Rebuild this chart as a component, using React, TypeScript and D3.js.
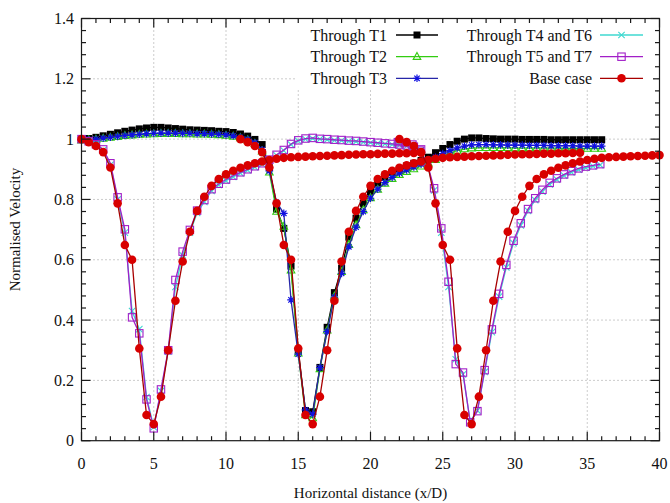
import React, { useEffect, useRef } from 'react'
import * as d3 from 'd3'

const W = 670
const H = 503
const STEP = 0.5 // spacing of the sampled points along x/D

// velocity profiles (x starts at the given origin, one value every STEP)
const t1Values = [1.0, 1.002, 1.006, 1.011, 1.016, 1.021, 1.026, 1.03, 1.034, 1.037,
  1.039, 1.039, 1.037, 1.035, 1.033, 1.031, 1.03, 1.029, 1.028, 1.026,
  1.025, 1.022, 1.017, 1.01, 0.999, 0.982, 0.905, 0.768, 0.704, 0.579,
  0.298, 0.10, 0.096, 0.243, 0.376, 0.491, 0.572, 0.675, 0.738, 0.787,
  0.826, 0.854, 0.874, 0.889, 0.901, 0.911, 0.92, 0.929, 0.94, 0.955,
  0.969, 0.982, 0.993, 1.0, 1.004, 1.004, 1.002, 1.001, 1.0, 1.0,
  1.0, 0.999, 0.999, 0.999, 0.999, 0.998, 0.998, 0.998, 0.998, 0.998,
  0.998, 0.998, 0.998]

const t2Values = [0.996, 0.997, 0.999, 1.002, 1.005, 1.008, 1.011, 1.013, 1.015, 1.016,
  1.017, 1.018, 1.018, 1.018, 1.017, 1.017, 1.016, 1.016, 1.015, 1.014,
  1.012, 1.009, 1.004, 0.997, 0.985, 0.96, 0.89, 0.76, 0.71, 0.565,
  0.29, 0.085, 0.075, 0.238, 0.366, 0.479, 0.56, 0.65, 0.715, 0.765,
  0.805, 0.833, 0.853, 0.869, 0.882, 0.892, 0.901, 0.91, 0.92, 0.932,
  0.944, 0.954, 0.962, 0.967, 0.97, 0.971, 0.971, 0.971, 0.971, 0.971,
  0.97, 0.97, 0.97, 0.97, 0.97, 0.97, 0.97, 0.969, 0.969, 0.969,
  0.969, 0.969, 0.969]

const t3Values = [0.997, 0.998, 1.0, 1.003, 1.006, 1.009, 1.012, 1.014, 1.016, 1.018,
  1.019, 1.02, 1.02, 1.02, 1.019, 1.019, 1.018, 1.018, 1.017, 1.016,
  1.014, 1.011, 1.006, 0.999, 0.988, 0.965, 0.895, 0.79, 0.754, 0.467,
  0.287, 0.102, 0.088, 0.242, 0.362, 0.476, 0.555, 0.643, 0.708, 0.76,
  0.804, 0.834, 0.856, 0.873, 0.887, 0.898, 0.908, 0.917, 0.928, 0.94,
  0.952, 0.962, 0.971, 0.977, 0.981, 0.982, 0.982, 0.981, 0.981, 0.98,
  0.98, 0.98, 0.979, 0.979, 0.979, 0.978, 0.978, 0.978, 0.978, 0.977,
  0.977, 0.977, 0.977]

const t4t6First = [1.0, 0.993, 0.982, 0.964, 0.915, 0.80, 0.69, 0.43, 0.37, 0.145,
  0.045, 0.165, 0.295, 0.51, 0.615, 0.69, 0.755, 0.792, 0.828, 0.848,
  0.862, 0.875, 0.887, 0.897, 0.907, 0.917, 0.93, 0.946, 0.962, 0.982,
  0.994, 1.0, 1.002, 1.0, 0.998, 0.996, 0.995, 0.993, 0.992, 0.99,
  0.988, 0.986, 0.984, 0.982, 0.98, 0.977, 0.973, 0.964]
const t4t6Second = [0.988, 0.985, 0.98, 0.96, 0.92, 0.83, 0.69, 0.51, 0.27, 0.22,
  0.065, 0.10, 0.228, 0.36, 0.478, 0.575, 0.655, 0.714, 0.762, 0.798,
  0.826, 0.85, 0.866, 0.879, 0.89, 0.899, 0.905, 0.91, 0.914]

const t5t7First = [1.0, 0.993, 0.983, 0.966, 0.92, 0.807, 0.701, 0.409, 0.356, 0.137,
  0.041, 0.17, 0.30, 0.533, 0.627, 0.699, 0.763, 0.798, 0.834, 0.852,
  0.866, 0.879, 0.89, 0.90, 0.91, 0.92, 0.932, 0.948, 0.964, 0.984,
  0.996, 1.002, 1.004, 1.001, 1.0, 0.998, 0.997, 0.995, 0.994, 0.992,
  0.99, 0.988, 0.986, 0.984, 0.982, 0.979, 0.975, 0.966]
const t5t7Second = [0.99, 0.987, 0.982, 0.962, 0.925, 0.837, 0.704, 0.527, 0.254, 0.226,
  0.061, 0.098, 0.234, 0.369, 0.487, 0.583, 0.663, 0.721, 0.768, 0.804,
  0.832, 0.855, 0.87, 0.883, 0.894, 0.903, 0.909, 0.913, 0.917]

// base case: the same single-turbine profile, measured behind each of the three rows
const baseProfile = [1.0, 0.99, 0.977, 0.957, 0.906, 0.787, 0.649, 0.60, 0.306, 0.085,
  0.055, 0.146, 0.30, 0.464, 0.594, 0.693, 0.762, 0.809, 0.845, 0.868,
  0.883, 0.895, 0.905, 0.913, 0.92, 0.926, 0.931, 0.935, 0.938, 0.94,
  0.941, 0.942, 0.943, 0.944, 0.945, 0.946, 0.947, 0.948, 0.949, 0.95,
  0.95, 0.951, 0.952, 0.952, 0.953, 0.953, 0.954, 0.955]
const baseStarts = [0, 11, 22]

const xTicks = [0, 5, 10, 15, 20, 25, 30, 35, 40]
const yTicks = [0, 0.2, 0.4, 0.6, 0.8, 1, 1.2, 1.4]

const series = [
  { name: 'Through T1', line: '#000000', mark: '#000000', marker: 'squareFilled', parts: [{ x0: 0, values: t1Values }] },
  { name: 'Through T2', line: '#33cc11', mark: '#33cc11', marker: 'triangle', parts: [{ x0: 0, values: t2Values }] },
  { name: 'Through T3', line: '#2626a8', mark: '#1010e0', marker: 'asterisk', parts: [{ x0: 0, values: t3Values }] },
  { name: 'Through T4 and T6', line: '#3fd8d0', mark: '#3fd8d0', marker: 'cross', parts: [{ x0: 0, values: t4t6First }, { x0: 21.9, values: t4t6Second }] },
  { name: 'Through T5 and T7', line: '#a21fc8', mark: '#a21fc8', marker: 'squareOpen', parts: [{ x0: 0, values: t5t7First }, { x0: 21.9, values: t5t7Second }] },
  { name: 'Base case', line: '#a80000', mark: '#d80000', marker: 'circleFilled', parts: baseStarts.map(s => ({ x0: s, values: baseProfile })) }
]

const FONT = "'Liberation Serif', 'DejaVu Serif', serif"

function drawMarker (g, type, color, cx, cy) {
  if (type === 'squareFilled') {
    g.append('rect').attr('x', cx - 3.5).attr('y', cy - 3.5).attr('width', 7).attr('height', 7).attr('fill', color)
  } else if (type === 'squareOpen') {
    g.append('rect').attr('x', cx - 3.7).attr('y', cy - 3.7).attr('width', 7.4).attr('height', 7.4)
      .attr('fill', 'none').attr('stroke', color).attr('stroke-width', 1.1)
  } else if (type === 'circleFilled') {
    g.append('circle').attr('cx', cx).attr('cy', cy).attr('r', 4.3).attr('fill', color)
  } else if (type === 'triangle') {
    g.append('path').attr('transform', `translate(${cx},${cy})`)
      .attr('d', 'M0,-4.2L3.8,2.7L-3.8,2.7Z').attr('fill', 'none').attr('stroke', color).attr('stroke-width', 1.1)
  } else if (type === 'asterisk') {
    g.append('path').attr('transform', `translate(${cx},${cy})`)
      .attr('d', 'M-3.8,0H3.8M0,-3.8V3.8M-2.7,-2.7L2.7,2.7M-2.7,2.7L2.7,-2.7')
      .attr('fill', 'none').attr('stroke', color).attr('stroke-width', 1.2)
  } else if (type === 'cross') {
    g.append('path').attr('transform', `translate(${cx},${cy})`)
      .attr('d', 'M-3.2,-3.2L3.2,3.2M-3.2,3.2L3.2,-3.2').attr('fill', 'none').attr('stroke', color).attr('stroke-width', 1.1)
  }
}

export default function App () {
  const ref = useRef(null)

  useEffect(() => {
    document.body.style.margin = '0'
    const svg = d3.select(ref.current)
    svg.selectAll('*').remove()

    const left = 81.5
    const right = 659.5
    const top = 18.5
    const bottom = 440.7

    const x = d3.scaleLinear().domain([0, 40]).range([left, right])
    const y = d3.scaleLinear().domain([0, 1.4]).range([bottom, top])

    // dotted grid at the major ticks
    const grid = svg.append('g').attr('stroke', '#9a9a9a').attr('stroke-dasharray', '1,3').attr('stroke-width', 1)
    xTicks.slice(1, -1).forEach(t => {
      grid.append('line').attr('x1', x(t)).attr('x2', x(t)).attr('y1', top).attr('y2', bottom)
    })
    yTicks.slice(1, -1).forEach(t => {
      grid.append('line').attr('x1', left).attr('x2', right).attr('y1', y(t)).attr('y2', y(t))
    })

    // curves, in legend order so the base case ends up on top
    const line = d3.line().x(d => x(d.x)).y(d => y(d.y))
    series.forEach(s => {
      const g = svg.append('g')
      s.parts.forEach(p => {
        const pts = p.values.map((v, i) => ({ x: p.x0 + i * STEP, y: v })).filter(d => d.x <= 40.001)
        g.append('path').datum(pts).attr('d', line)
          .attr('fill', 'none').attr('stroke', s.line).attr('stroke-width', 1.3)
        pts.forEach(d => drawMarker(g, s.marker, s.mark, x(d.x), y(d.y)))
      })
    })

    // frame with inward ticks on all four sides
    const axes = svg.append('g').attr('stroke', '#1a1a1a').attr('stroke-width', 1.2)
    axes.append('rect').attr('x', left).attr('y', top).attr('width', right - left).attr('height', bottom - top).attr('fill', 'none')
    d3.range(0, 41, 1).forEach(t => {
      const len = t % 5 === 0 ? 9 : 4.5
      axes.append('line').attr('x1', x(t)).attr('x2', x(t)).attr('y1', bottom).attr('y2', bottom - len)
      axes.append('line').attr('x1', x(t)).attr('x2', x(t)).attr('y1', top).attr('y2', top + len)
    })
    d3.range(0, 36, 1).forEach(i => {
      const t = i * 0.04
      const len = i % 5 === 0 ? 9 : 4.5
      axes.append('line').attr('x1', left).attr('x2', left + len).attr('y1', y(t)).attr('y2', y(t))
      axes.append('line').attr('x1', right).attr('x2', right - len).attr('y1', y(t)).attr('y2', y(t))
    })

    // tick labels
    const labels = svg.append('g').style('font-family', FONT).style('font-size', '16px').attr('fill', '#111')
    xTicks.forEach(t => {
      labels.append('text').attr('x', x(t)).attr('y', 469).attr('text-anchor', 'middle').text(String(t))
    })
    yTicks.forEach(t => {
      labels.append('text').attr('x', 74).attr('y', y(t) + 5.5).attr('text-anchor', 'end').text(String(t))
    })

    // axis titles
    svg.append('text').attr('x', (left + right) / 2).attr('y', 498).attr('text-anchor', 'middle')
      .style('font-family', FONT).style('font-size', '15px').attr('fill', '#111').text('Horizontal distance (x/D)')
    svg.append('text').attr('transform', `translate(20,${(top + bottom) / 2}) rotate(-90)`).attr('text-anchor', 'middle')
      .style('font-family', FONT).style('font-size', '15px').attr('fill', '#111').text('Normalised Velocity')

    // opaque key, two columns of three
    svg.append('rect').attr('x', 296).attr('y', 23).attr('width', 357).attr('height', 66).attr('fill', '#fff')
    const cols = [{ textRight: 387, x1: 396, x2: 438 }, { textRight: 592, x1: 600, x2: 643 }]
    const rows = [35, 56.7, 78.3]
    series.forEach((s, i) => {
      const c = cols[Math.floor(i / 3)]
      const cy = rows[i % 3]
      const g = svg.append('g')
      g.append('text').attr('x', c.textRight).attr('y', cy + 5.5).attr('text-anchor', 'end')
        .style('font-family', FONT).style('font-size', '16px').attr('fill', '#111').text(s.name)
      g.append('line').attr('x1', c.x1).attr('x2', c.x2).attr('y1', cy).attr('y2', cy)
        .attr('stroke', s.line).attr('stroke-width', 1.3)
      drawMarker(g, s.marker, s.mark, (c.x1 + c.x2) / 2, cy)
    })
  }, [])

  return <svg ref={ref} width={W} height={H} style={{ display: 'block', background: '#fff' }} />
}
